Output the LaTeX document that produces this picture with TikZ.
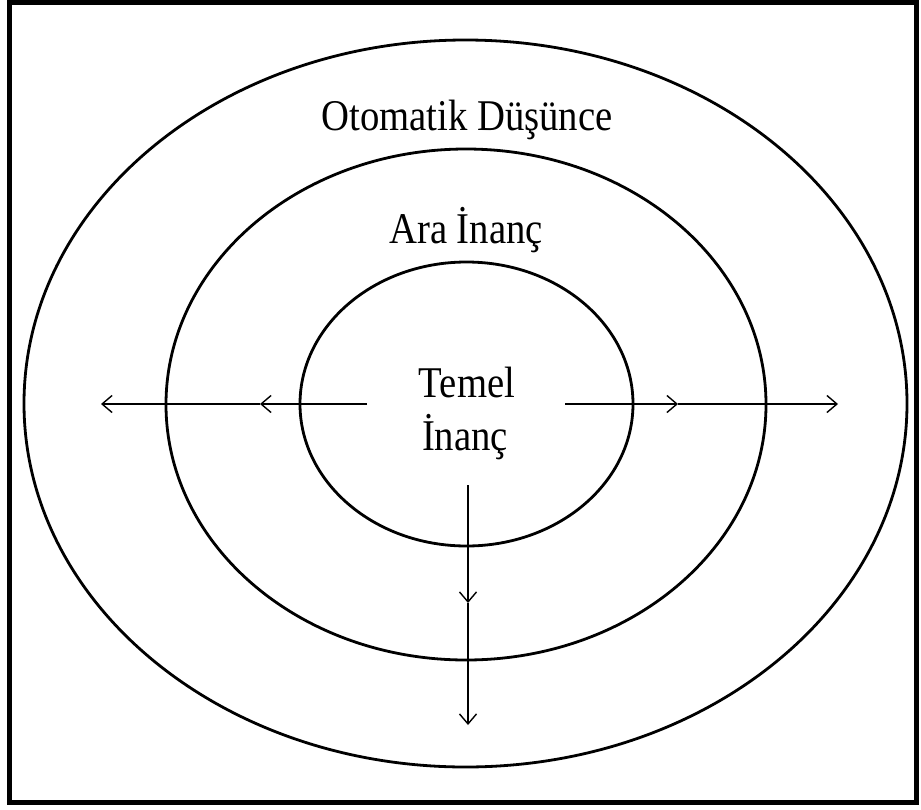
\documentclass[tikz,border=0pt]{standalone}
\usepackage{fontspec}
\setmainfont{Liberation Serif}
\usetikzlibrary{arrows.meta}
\tikzset{
  ring/.style={draw=black, line width=2.8pt},
  lbl/.style={anchor=base, inner sep=0pt, font=\fontsize{43}{50}\selectfont},
  flow/.style={draw=black, line width=1.3pt, -{Straight Barb[length=10pt,width=17pt,line width=1.4pt]}},
}
\newcommand{\sq}[1]{\scalebox{0.9}[1.02]{#1}}
\begin{document}
\begin{tikzpicture}[x=1pt,y=-1pt]
\useasboundingbox (0,0) rectangle (921,809);
\fill[white] (0,0) rectangle (921,809);
\draw[line width=5pt] (9.5,2.5) rectangle (916.5,802.5);
% ellipses
\draw[ring] (465.5,403.5) ellipse [x radius=441.5, y radius=363.5];
\draw[ring] (466,404.5) ellipse [x radius=300, y radius=255.5];
\draw[ring] (466.5,404) ellipse [x radius=166.5, y radius=142];
% labels
\node[lbl] (oto) at (467,130) {\sq{Otomatik Düşünce}};
\node[lbl] (ara) at (466,243) {\sq{Ara İnanç}};
\node[lbl] (temel) at (467,397) {\sq{Temel}};
\node[lbl] (inanc) at (465,450) {\sq{İnanç}};
% arrow coordinates
\coordinate (ls) at (367,404);
\coordinate (lm) at (260,404);
\coordinate (le) at (101,404);
\coordinate (rs) at (565,404);
\coordinate (rm) at (678,404);
\coordinate (re) at (838,404);
\coordinate (ds) at (468,485);
\coordinate (dm) at (468,603);
\coordinate (de) at (468,725);
\draw[flow] (ls) -- (lm);
\draw[flow] (lm) -- (le);
\draw[flow] (rs) -- (rm);
\draw[flow] (rm) -- (re);
\draw[flow] (ds) -- (dm);
\draw[flow] (dm) -- (de);
\end{tikzpicture}
\end{document}
